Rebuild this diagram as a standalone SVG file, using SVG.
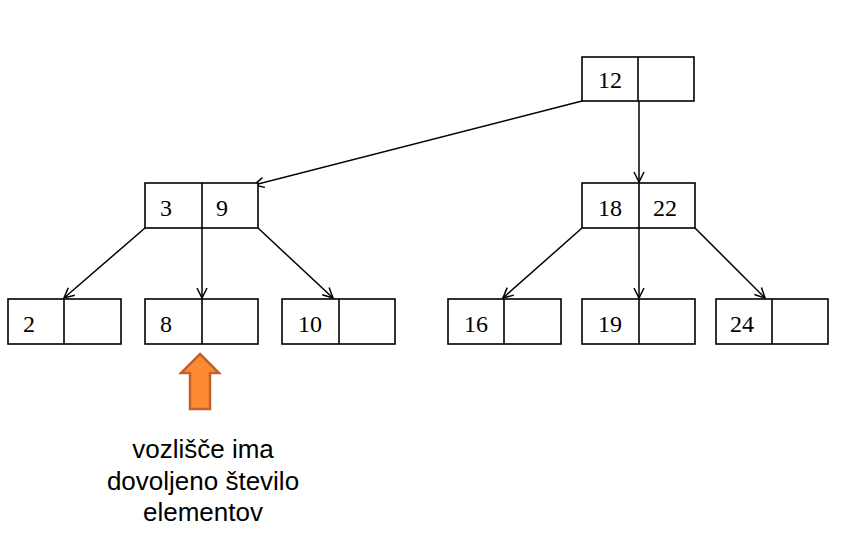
<svg xmlns="http://www.w3.org/2000/svg" width="849" height="547" viewBox="0 0 849 547">
<style>
.box{fill:#fff;stroke:#000;stroke-width:1.6}
.div{stroke:#000;stroke-width:1.6}
.num{font-family:"Liberation Serif","Times New Roman",serif;font-size:24px;fill:#000}
.edge{stroke:#000;stroke-width:1.5;fill:none;marker-end:url(#ah)}
.cap{font-family:"Liberation Sans",Arial,sans-serif;font-size:26px;fill:#000;text-anchor:middle}
</style>
<defs>
<marker id="ah" markerWidth="14" markerHeight="14" refX="11" refY="6" orient="auto" markerUnits="userSpaceOnUse">
<path d="M1,1 L11,6 L1,11" fill="none" stroke="#000" stroke-width="1.5"/>
</marker>
</defs>
<rect width="849" height="547" fill="#fff"/>
<g id="connectors">
<line class="edge" x1="582" y1="101" x2="254" y2="185"/>
<line class="edge" x1="639" y1="101" x2="639" y2="182"/>
<line class="edge" x1="145" y1="228" x2="64" y2="298"/>
<line class="edge" x1="202" y1="228" x2="202" y2="298"/>
<line class="edge" x1="258" y1="228" x2="333" y2="298"/>
<line class="edge" x1="582" y1="228" x2="503" y2="298"/>
<line class="edge" x1="639" y1="228" x2="639" y2="298"/>
<line class="edge" x1="695" y1="228" x2="765" y2="298"/>
</g>
<g id="node-12">
<rect class="box" x="582" y="57" width="112" height="44"/>
<line class="div" x1="638" y1="57" x2="638" y2="101"/>
<text class="num" x="598" y="88">12</text>
</g>
<g id="node-3-9">
<rect class="box" x="145" y="183" width="113" height="45"/>
<line class="div" x1="202" y1="183" x2="202" y2="228"/>
<text class="num" x="160" y="216">3</text>
<text class="num" x="216" y="216">9</text>
</g>
<g id="node-18-22">
<rect class="box" x="582" y="183" width="113" height="45"/>
<line class="div" x1="639" y1="183" x2="639" y2="228"/>
<text class="num" x="598" y="216">18</text>
<text class="num" x="653" y="216">22</text>
</g>
<g id="leaf-2">
<rect class="box" x="8" y="299" width="113" height="45"/>
<line class="div" x1="64" y1="299" x2="64" y2="344"/>
<text class="num" x="23" y="332">2</text>
</g>
<g id="leaf-8">
<rect class="box" x="145" y="299" width="113" height="45"/>
<line class="div" x1="202" y1="299" x2="202" y2="344"/>
<text class="num" x="160" y="332">8</text>
</g>
<g id="leaf-10">
<rect class="box" x="282" y="299" width="113" height="45"/>
<line class="div" x1="339" y1="299" x2="339" y2="344"/>
<text class="num" x="298" y="332">10</text>
</g>
<g id="leaf-16">
<rect class="box" x="448" y="299" width="113" height="45"/>
<line class="div" x1="504" y1="299" x2="504" y2="344"/>
<text class="num" x="464" y="332">16</text>
</g>
<g id="leaf-19">
<rect class="box" x="582" y="299" width="113" height="45"/>
<line class="div" x1="639" y1="299" x2="639" y2="344"/>
<text class="num" x="598" y="332">19</text>
</g>
<g id="leaf-24">
<rect class="box" x="716" y="299" width="112" height="45"/>
<line class="div" x1="772" y1="299" x2="772" y2="344"/>
<text class="num" x="730" y="332">24</text>
</g>
<g id="pointer">
<polygon points="200,354 219,373 210,373 210,409 190,409 190,373 181,373" fill="#FF8A35" stroke="#C0622A" stroke-width="2.5" stroke-linejoin="miter"/>
</g>
<g id="caption">
<text class="cap" x="203" y="458">vozlišče ima</text>
<text class="cap" x="203" y="490">dovoljeno število</text>
<text class="cap" x="203" y="521">elementov</text>
</g>
</svg>
